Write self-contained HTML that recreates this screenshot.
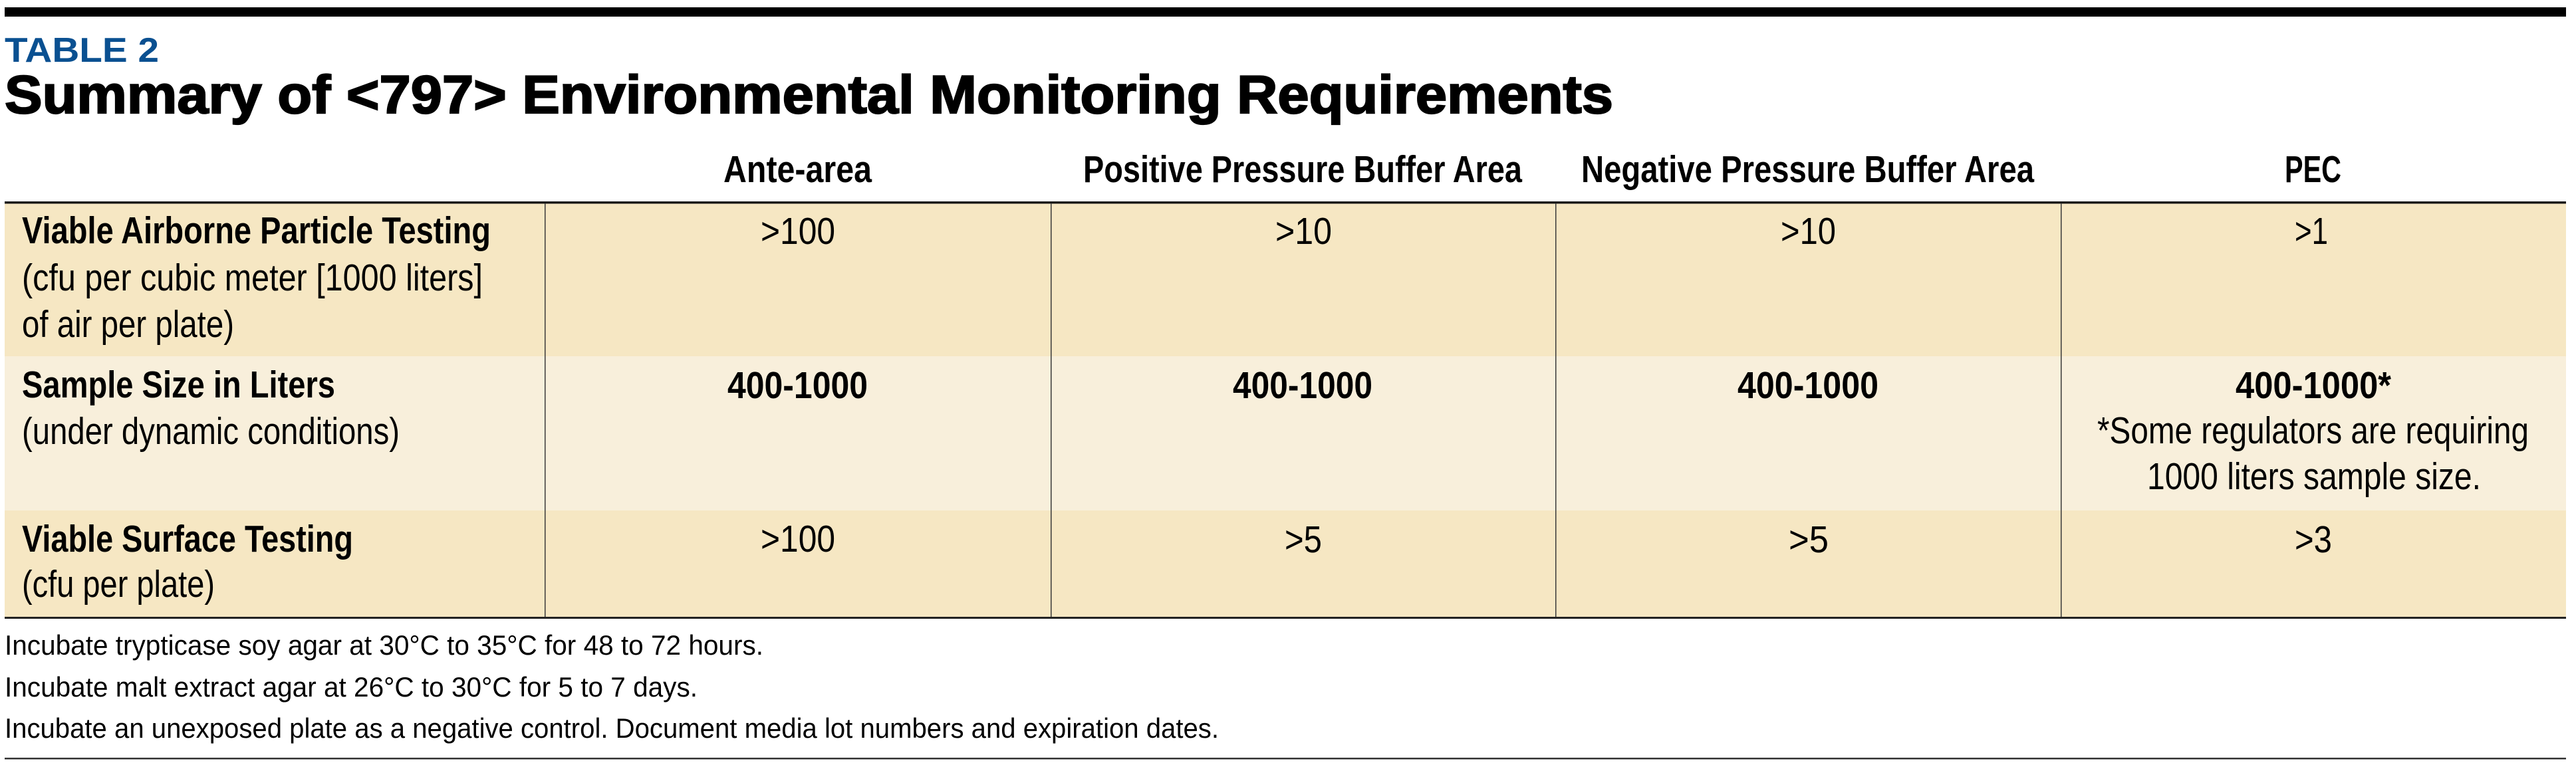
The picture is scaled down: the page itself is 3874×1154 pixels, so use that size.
<!DOCTYPE html>
<html>
<head>
<meta charset="utf-8">
<style>
  html, body { margin: 0; padding: 0; background: #ffffff; }
  body { width: 3874px; height: 1154px; overflow: hidden; }
  svg { display: block; }
  text { font-family: "Liberation Sans", Arial, sans-serif; fill: #000; }
  .b { font-weight: bold; }
  .h { font-size: 57px; font-weight: bold; }
  .r { font-size: 57px; }
  .f { font-size: 42px; }
</style>
</head>
<body>
<svg width="3874" height="1154" viewBox="0 0 3874 1154" xmlns="http://www.w3.org/2000/svg">
  <!-- top thick bar -->
  <rect x="7" y="11" width="3852" height="14" fill="#000"/>

  <!-- TABLE 2 -->
  <text x="7" y="93" font-size="52" font-weight="bold" style="fill:#0a5091" textLength="232" lengthAdjust="spacingAndGlyphs">TABLE 2</text>

  <!-- Title -->
  <text x="7" y="170" font-size="81" font-weight="bold" stroke="#000" stroke-width="2.2" textLength="2419" lengthAdjust="spacingAndGlyphs">Summary of &lt;797&gt; Environmental Monitoring Requirements</text>

  <!-- Header row -->
  <text class="h" x="1088" y="274" textLength="223" lengthAdjust="spacingAndGlyphs">Ante-area</text>
  <text class="h" x="1629" y="274" textLength="660" lengthAdjust="spacingAndGlyphs">Positive Pressure Buffer Area</text>
  <text class="h" x="2378" y="274" textLength="681" lengthAdjust="spacingAndGlyphs">Negative Pressure Buffer Area</text>
  <text class="h" x="3436" y="274" textLength="85" lengthAdjust="spacingAndGlyphs">PEC</text>

  <!-- row backgrounds -->
  <rect x="7" y="306" width="3852" height="230" fill="#f6e7c3"/>
  <rect x="7" y="536" width="3852" height="232" fill="#f8efdb"/>
  <rect x="7" y="768" width="3852" height="161" fill="#f6e7c3"/>

  <!-- header rule -->
  <rect x="7" y="303" width="3852" height="3.5" fill="#1a1a1a"/>

  <!-- vertical dividers -->
  <rect x="819" y="306" width="1.5" height="623" fill="#3a3a3a"/>
  <rect x="1580" y="306" width="1.5" height="623" fill="#3a3a3a"/>
  <rect x="2339" y="306" width="1.5" height="623" fill="#3a3a3a"/>
  <rect x="3099" y="306" width="1.5" height="623" fill="#3a3a3a"/>

  <!-- table bottom rule -->
  <rect x="7" y="928" width="3852" height="3" fill="#222"/>

  <!-- Row 1 -->
  <text class="h" x="33" y="366" textLength="705" lengthAdjust="spacingAndGlyphs">Viable Airborne Particle Testing</text>
  <text class="r" x="33" y="437" textLength="693" lengthAdjust="spacingAndGlyphs">(cfu per cubic meter [1000 liters]</text>
  <text class="r" x="33" y="507" textLength="319" lengthAdjust="spacingAndGlyphs">of air per plate)</text>
  <text class="r" x="1144" y="367" textLength="112" lengthAdjust="spacingAndGlyphs">&gt;100</text>
  <text class="r" x="1918" y="367" textLength="85" lengthAdjust="spacingAndGlyphs">&gt;10</text>
  <text class="r" x="2678" y="367" textLength="83" lengthAdjust="spacingAndGlyphs">&gt;10</text>
  <text class="r" x="3451" y="367" textLength="50" lengthAdjust="spacingAndGlyphs">&gt;1</text>

  <!-- Row 2 -->
  <text class="h" x="33" y="598" textLength="471" lengthAdjust="spacingAndGlyphs">Sample Size in Liters</text>
  <text class="r" x="33" y="668" textLength="568" lengthAdjust="spacingAndGlyphs">(under dynamic conditions)</text>
  <text class="h" x="1094" y="599" textLength="211" lengthAdjust="spacingAndGlyphs">400-1000</text>
  <text class="h" x="1854" y="599" textLength="210" lengthAdjust="spacingAndGlyphs">400-1000</text>
  <text class="h" x="2613" y="599" textLength="212" lengthAdjust="spacingAndGlyphs">400-1000</text>
  <text class="h" x="3362" y="599" textLength="234" lengthAdjust="spacingAndGlyphs">400-1000*</text>
  <text class="r" x="3154" y="667" textLength="649" lengthAdjust="spacingAndGlyphs">*Some regulators are requiring</text>
  <text class="r" x="3229" y="736" textLength="502" lengthAdjust="spacingAndGlyphs">1000 liters sample size.</text>

  <!-- Row 3 -->
  <text class="h" x="33" y="830" textLength="498" lengthAdjust="spacingAndGlyphs">Viable Surface Testing</text>
  <text class="r" x="33" y="898" textLength="290" lengthAdjust="spacingAndGlyphs">(cfu per plate)</text>
  <text class="r" x="1144" y="830" textLength="112" lengthAdjust="spacingAndGlyphs">&gt;100</text>
  <text class="r" x="1932" y="831" textLength="56" lengthAdjust="spacingAndGlyphs">&gt;5</text>
  <text class="r" x="2690" y="831" textLength="60" lengthAdjust="spacingAndGlyphs">&gt;5</text>
  <text class="r" x="3451" y="831" textLength="56" lengthAdjust="spacingAndGlyphs">&gt;3</text>

  <!-- Footnotes -->
  <text class="f" x="7" y="985" textLength="1141" lengthAdjust="spacingAndGlyphs">Incubate trypticase soy agar at 30°C to 35°C for 48 to 72 hours.</text>
  <text class="f" x="7" y="1048" textLength="1042" lengthAdjust="spacingAndGlyphs">Incubate malt extract agar at 26°C to 30°C for 5 to 7 days.</text>
  <text class="f" x="7" y="1110" textLength="1826" lengthAdjust="spacingAndGlyphs">Incubate an unexposed plate as a negative control. Document media lot numbers and expiration dates.</text>

  <!-- bottom rule -->
  <rect x="7" y="1140" width="3852" height="2.5" fill="#333"/>
</svg>
</body>
</html>
